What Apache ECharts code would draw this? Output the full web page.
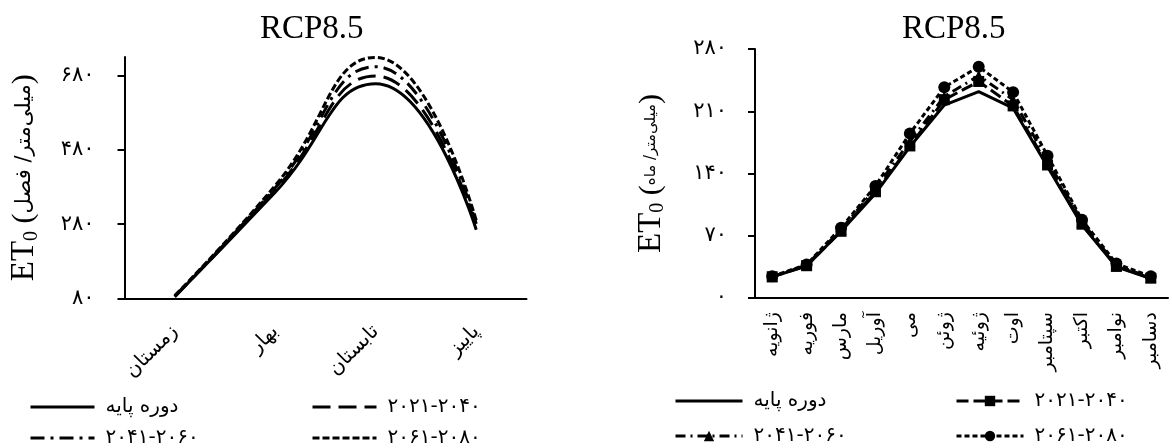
<!DOCTYPE html>
<html lang="fa">
<head>
<meta charset="utf-8">
<title>RCP8.5 ET0</title>
<script src="https://cdn.jsdelivr.net/npm/echarts@6/dist/echarts.min.js"></script>
<style>
  html, body { margin: 0; padding: 0; background: #fff; }
  #wrap { position: relative; width: 1172px; height: 448px; }
  #chart_season { position: absolute; left: 0; top: 0; width: 586px; height: 448px; }
  #chart_month { position: absolute; left: 586px; top: 0; width: 586px; height: 448px; }
</style>
</head>
<body>
<div id="wrap">
  <div id="chart_season"></div>
  <div id="chart_month"></div>
</div>

<script>
// categories
var seasons = ['زمستان', 'بهار', 'تابستان', 'پاییز'];
var months = ['ژانویه', 'فوریه', 'مارس', 'آوریل', 'می', 'ژوئن', 'ژوئیه', 'اوت', 'سپتامبر', 'اکتبر', 'نوامبر', 'دسامبر'];
var periods = ['دوره پایه', '۲۰۲۱-۲۰۴۰', '۲۰۴۱-۲۰۶۰', '۲۰۶۱-۲۰۸۰'];

// seasonal ET0 (mm / season)
var seasonBase = [85, 366, 658, 265];
var season2021 = [85, 372, 679, 272];
var season2041 = [86, 378, 704, 281];
var season2061 = [88, 384, 729, 290];

// monthly ET0 (mm / month)
var monthBase = [23.7, 36, 75, 117.6, 170, 217, 232, 213.5, 147.7, 82, 35, 21.8];
var month2021 = [23.9, 36.3, 75, 119.5, 171, 223, 243.5, 216, 149.6, 83, 35.5, 22.3];
var month2041 = [24, 37, 77, 123, 176, 226.6, 250, 223, 155, 85.7, 36.8, 23];
var month2061 = [24.4, 37.6, 79, 126, 185, 237, 260, 231.5, 160, 88, 38.7, 24.4];

// axis ticks
var seasonTicks = [80, 280, 480, 680];

var persianDigits = '۰۱۲۳۴۵۶۷۸۹';
function fa(v) {
  return String(v).replace(/\d/g, function (d) { return persianDigits[d]; });
}

var serif = "'Liberation Serif', 'DejaVu Sans', serif";
var faFont = "'DejaVu Sans', sans-serif";

function yName(unit) {
  return '{et|ET}{sub|0}{par| (}{fa|' + unit + '}{par|)}';
}
function yNameRich(faSize) {
  return {
    et: { fontFamily: serif, fontSize: 33, color: '#000' },
    sub: { fontFamily: serif, fontSize: 20, color: '#000', verticalAlign: 'bottom', padding: [14, 0, 0, 0] },
    par: { fontFamily: serif, fontSize: 30, color: '#000' },
    fa: { fontFamily: faFont, fontSize: faSize, color: '#000' }
  };
}

var axisLine = { lineStyle: { color: '#000', width: 2 } };
var axisTick = { length: 7, lineStyle: { color: '#000', width: 2 } };

function legendBox(left, top, gap, w, h, names, hideSymbol) {
  var box = {
    orient: 'vertical',
    left: left,
    top: top,
    height: 80,
    padding: 0,
    itemGap: gap,
    itemWidth: w,
    itemHeight: h,
    selectedMode: false,
    lineStyle: { width: 3 },
    textStyle: { fontFamily: faFont, fontSize: 20, color: '#000', padding: [0, 0, 0, 6] },
    data: names
  };
  if (hideSymbol) box.itemStyle = { opacity: 0 };
  return box;
}

// ---------- left chart: seasons ----------
var chartSeason = echarts.init(document.getElementById('chart_season'));
chartSeason.setOption({
  animation: false,
  backgroundColor: '#fff',
  color: ['#000', '#000', '#000', '#000'],
  title: {
    text: 'RCP8.5',
    left: 255,
    top: 8,
    textStyle: { fontFamily: serif, fontSize: 33, fontWeight: 'normal', color: '#000' }
  },
  legend: [
    legendBox(29, 397, 11, 64, 14, [periods[0], periods[2]], true),
    legendBox(311, 397, 11, 64, 14, [periods[1], periods[3]], true)
  ],
  grid: { left: 120.5, top: 57, width: 406, height: 241.5 },
  xAxis: {
    type: 'category',
    data: seasons,
    boundaryGap: true,
    axisLine: axisLine,
    axisTick: axisTick,
    axisLabel: {
      rotate: 45,
      margin: 30,
      interval: 0,
      fontFamily: faFont,
      fontSize: 20,
      color: '#000'
    }
  },
  yAxis: {
    type: 'value',
    min: 80,
    max: 730,
    interval: 50,
    splitLine: { show: false },
    axisLine: { show: true, lineStyle: { color: '#000', width: 2 } },
    axisTick: { show: true, length: 7, lineStyle: { color: '#000', width: 2 }, customValues: seasonTicks },
    axisLabel: {
      customValues: seasonTicks,
      margin: 30,
      fontFamily: faFont,
      fontSize: 21,
      color: '#000',
      formatter: fa
    },
    name: yName('میلی‌متر/ فصل'),
    nameLocation: 'middle',
    nameGap: 83,
    nameTextStyle: { rich: yNameRich(21) }
  },
  series: [{
    name: periods[0],
    type: 'line',
    smooth: 0.5,
    symbol: 'none',
    lineStyle: { color: '#000', width: 3, type: 'solid' },
    data: seasonBase
  }, {
    name: periods[1],
    type: 'line',
    smooth: 0.5,
    symbol: 'none',
    lineStyle: { color: '#000', width: 3, type: [18, 8] },
    data: season2021
  }, {
    name: periods[2],
    type: 'line',
    smooth: 0.5,
    symbol: 'none',
    lineStyle: { color: '#000', width: 3, type: [14, 6, 3, 6] },
    data: season2041
  }, {
    name: periods[3],
    type: 'line',
    smooth: 0.5,
    symbol: 'none',
    lineStyle: { color: '#000', width: 3, type: [7, 3] },
    data: season2061
  }]
});

// ---------- right chart: months ----------
var chartMonth = echarts.init(document.getElementById('chart_month'));
chartMonth.setOption({
  animation: false,
  backgroundColor: '#fff',
  color: ['#000', '#000', '#000', '#000'],
  title: {
    text: 'RCP8.5',
    left: 311,
    top: 8,
    textStyle: { fontFamily: serif, fontSize: 33, fontWeight: 'normal', color: '#000' }
  },
  legend: [
    legendBox(88, 391, 15, 67, 13, [{ name: periods[0], itemStyle: { opacity: 0 } }, periods[2]], false),
    legendBox(369, 391, 15, 67, 13, [periods[1], periods[3]], false)
  ],
  grid: { left: 169, top: 49, width: 413, height: 249 },
  xAxis: {
    type: 'category',
    data: months,
    boundaryGap: true,
    axisLine: axisLine,
    axisTick: axisTick,
    axisLabel: {
      rotate: 90,
      margin: 14,
      interval: 0,
      fontFamily: faFont,
      fontSize: 19,
      color: '#000'
    }
  },
  yAxis: {
    type: 'value',
    min: 0,
    max: 280,
    interval: 70,
    splitLine: { show: false },
    axisLine: { show: true, lineStyle: { color: '#000', width: 2 } },
    axisTick: { show: true, length: 7, lineStyle: { color: '#000', width: 2 } },
    axisLabel: {
      margin: 28,
      fontFamily: faFont,
      fontSize: 21,
      color: '#000',
      formatter: fa
    },
    name: yName('میلی‌متر/ ماه'),
    nameLocation: 'middle',
    nameGap: 87,
    nameTextStyle: { rich: yNameRich(15) }
  },
  series: [{
    name: periods[0],
    type: 'line',
    symbol: 'none',
    lineStyle: { color: '#000', width: 3, type: 'solid' },
    data: monthBase
  }, {
    name: periods[1],
    type: 'line',
    symbol: 'rect',
    symbolSize: 11,
    itemStyle: { color: '#000' },
    lineStyle: { color: '#000', width: 3, type: [12, 5] },
    data: month2021
  }, {
    name: periods[2],
    type: 'line',
    symbol: 'triangle',
    symbolSize: 11,
    itemStyle: { color: '#000' },
    lineStyle: { color: '#000', width: 3, type: [10, 5, 2, 5] },
    data: month2041
  }, {
    name: periods[3],
    type: 'line',
    symbol: 'circle',
    symbolSize: 12,
    itemStyle: { color: '#000' },
    lineStyle: { color: '#000', width: 3, type: [5, 3] },
    data: month2061
  }]
});

window.onresize = function () {
  chartSeason.resize();
  chartMonth.resize();
};
</script>
</body>
</html>
